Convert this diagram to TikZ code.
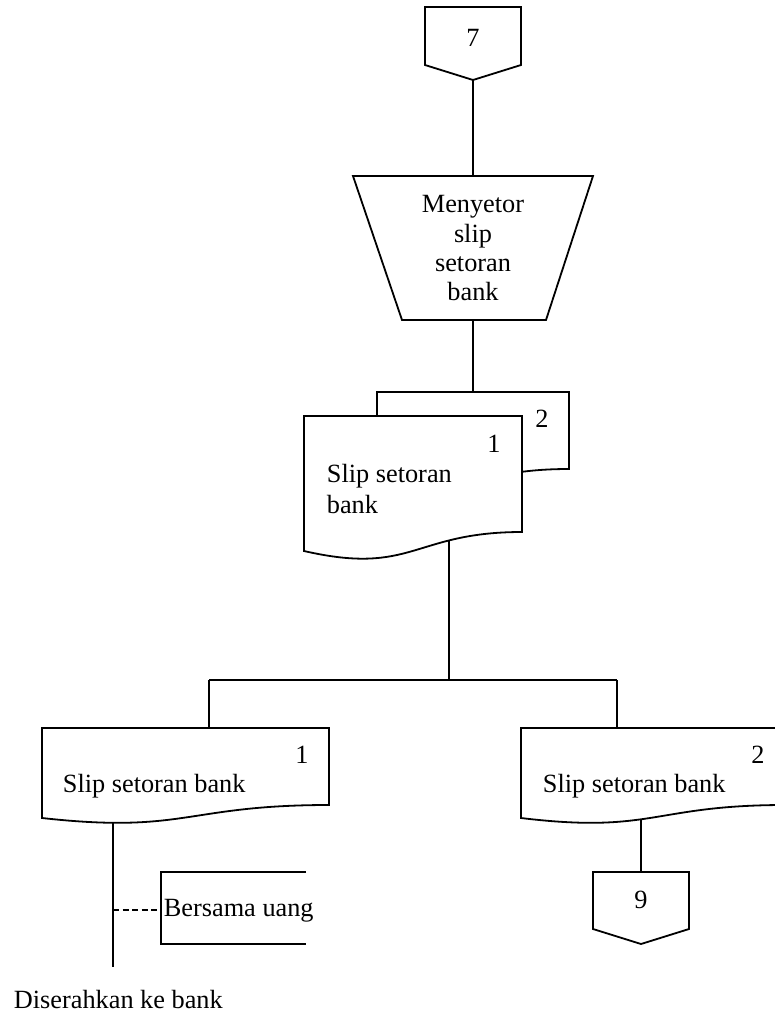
\documentclass[tikz,border=0pt]{standalone}
\usepackage{fontspec}
\setmainfont{Liberation Serif}
\begin{document}
\begin{tikzpicture}[x=1pt,y=-1pt,
  line width=1.8pt, line join=miter,
  lbl/.style={inner sep=0pt, font=\fontsize{26.3}{30}\selectfont},
  shp/.style={draw, fill=white, line width=1.8pt},
  link/.style={draw, line width=1.8pt}]
\useasboundingbox (0,0) rectangle (775,1014);
\clip (0,0) rectangle (775,1014);

% connection points
\coordinate (c7b)  at (473,80);
\coordinate (trT)  at (473,176);
\coordinate (trB)  at (473,320);
\coordinate (dBt)  at (473,392);
\coordinate (dAb)  at (449,538);
\coordinate (jn)   at (449,680);
\coordinate (jL)   at (209,680);
\coordinate (jR)   at (617,680);
\coordinate (dLt)  at (209,728);
\coordinate (dRt)  at (617,728);
\coordinate (dLb)  at (113,820);
\coordinate (dRb)  at (641,820);
\coordinate (c9t)  at (641,872);
\coordinate (endL) at (113,967);
\coordinate (tapL) at (113,910);
\coordinate (annL) at (161,910);

% connectors (drawn first, shapes cover their ends)
\draw[link] (c7b) -- (trT);
\draw[link] (trB) -- (dBt);
\draw[link] (dAb) -- (jn);
\draw[link] (jL) -- (jR);
\draw[link] (jL) -- (dLt);
\draw[link] (jR) -- (dRt);
\draw[link] (dLb) -- (endL);
\draw[link] (dRb) -- (c9t);
\draw[link, line width=1.3pt, dash pattern=on 6pt off 3.5pt] (tapL) -- (annL);

% off-page connector 7
\draw[shp] (425,7) -- (521,7) -- (521,65) -- (473,80) -- (425,65) -- cycle;
\node[lbl] (n7) at (473,38) {7};

% manual operation
\draw[shp] (353,176) -- (593,176) -- (546,320) -- (402,320) -- cycle;
\node[lbl, anchor=base] (m1) at (473,212) {Menyetor};
\node[lbl, anchor=base] (m2) at (473,242) {slip};
\node[lbl, anchor=base] (m3) at (473,271) {setoran};
\node[lbl, anchor=base] (m4) at (473,300) {bank};

% two-copy document: copy 2 behind, copy 1 in front
\draw[shp] (377,392) -- (569,392) -- (569,469)
  .. controls (473,469) and (473,498) .. (377,482) -- cycle;
\node[lbl, anchor=base] (dBn) at (542,427) {2};
\draw[shp] (304,416) -- (522,416) -- (522,532)
  .. controls (413,532) and (413,576) .. (304,551) -- cycle;
\node[lbl, anchor=base] (dAn) at (494,452) {1};
\node[lbl, anchor=base west] (dAt1) at (326,482) {Slip setoran};
\node[lbl, anchor=base west] (dAt2) at (326,513) {bank};

% left document
\draw[shp] (42,728) -- (329,728) -- (329,805)
  .. controls (185.5,805) and (185.5,834) .. (42,818) -- cycle;
\node[lbl, anchor=base] (dLn) at (302,763) {1};
\node[lbl, anchor=base west] (dLx) at (62,792) {Slip setoran bank};

% right document
\draw[shp] (521,728) -- (785,728) -- (785,805)
  .. controls (653,805) and (653,834) .. (521,818) -- cycle;
\node[lbl, anchor=base] (dRn) at (758,763) {2};
\node[lbl, anchor=base west] (dRx) at (542,792) {Slip setoran bank};

% off-page connector 9
\draw[shp] (593,872) -- (689,872) -- (689,929) -- (641,944) -- (593,929) -- cycle;
\node[lbl] (n9) at (641,900) {9};

% annotation
\draw[link] (306,872) -- (161,872) -- (161,944) -- (306,944);
\node[lbl, anchor=base west] (ann) at (163,916) {Bersama uang};

% final note
\node[lbl, anchor=base west] (note) at (13,1008) {Diserahkan ke bank};
\end{tikzpicture}
\end{document}
